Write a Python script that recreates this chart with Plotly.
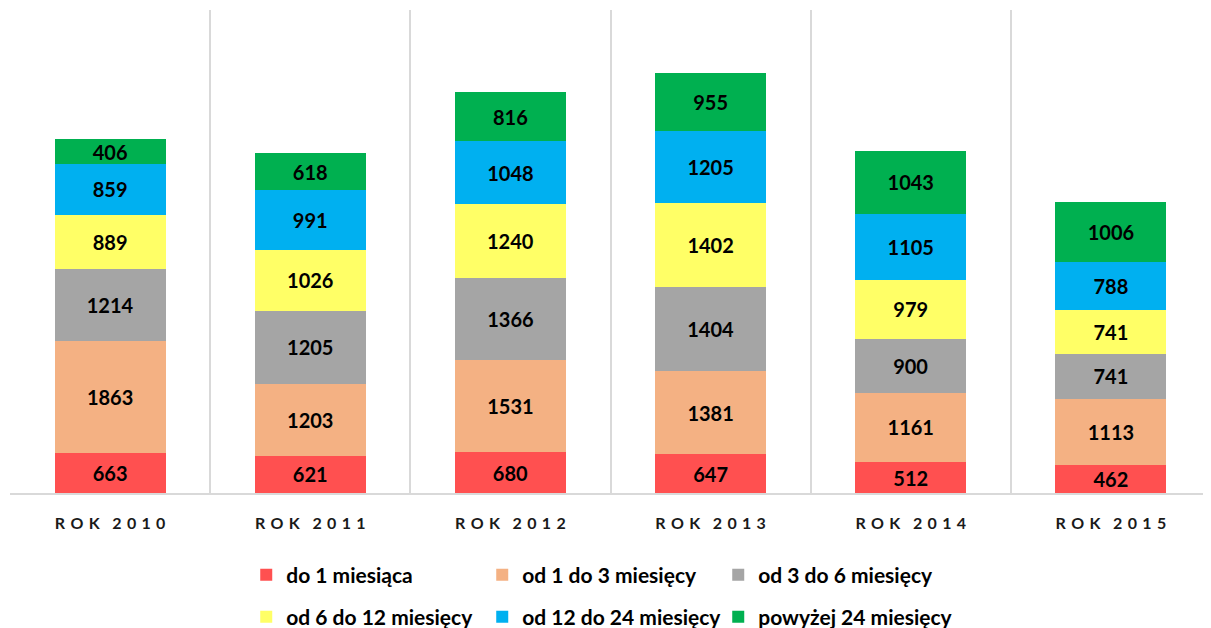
import plotly.graph_objects as go

S = "\u2004"
GAP = "\u2004\u2004\u2009"
years = ["2010", "2011", "2012", "2013", "2014", "2015"]
categories = [S.join("ROK") + GAP + S.join(y) for y in years]
series_names = ["do 1 miesiąca", "od 1 do 3 miesięcy", "od 3 do 6 miesięcy",
                "od 6 do 12 miesięcy", "od 12 do 24 miesięcy", "powyżej 24 miesięcy"]
do_1 = [663, 621, 680, 647, 512, 462]
od_1_3 = [1863, 1203, 1531, 1381, 1161, 1113]
od_3_6 = [1214, 1205, 1366, 1404, 900, 741]
od_6_12 = [889, 1026, 1240, 1402, 979, 741]
od_12_24 = [859, 991, 1048, 1205, 1105, 788]
pow_24 = [406, 618, 816, 955, 1043, 1006]
colors = ["#FF5050", "#F4B183", "#A5A5A5", "#FFFF66", "#00B0F0", "#00B050"]

values = [do_1, od_1_3, od_3_6, od_6_12, od_12_24, pow_24]

fig = go.Figure()
for i, (name, vals, col) in enumerate(zip(series_names, values, colors)):
    fig.add_trace(go.Bar(
        x=categories, y=vals, name=name,
        marker=dict(color=col, line=dict(width=0)),
        text=[str(v) for v in vals],
        textposition="inside", insidetextanchor="middle", textangle=0,
        textfont=dict(family="Lato", size=20, color="black", weight="bold"),
        legend="legend" if i < 3 else "legend2",
    ))

legend_common = dict(
    orientation="h", xanchor="left", yanchor="middle",
    font=dict(family="Lato", size=21, color="black", weight="bold"),
    entrywidth=191, entrywidthmode="pixels", itemwidth=30,
    bgcolor="rgba(0,0,0,0)", traceorder="normal",
)

fig.update_layout(
    width=1211, height=628,
    barmode="stack", bargap=0.445,
    plot_bgcolor="white", paper_bgcolor="white",
    margin=dict(l=2, r=8, t=2, b=143, autoexpand=False),
    uniformtext=dict(minsize=20, mode="show"),
    legend=dict(x=0.1967, y=-0.1698, **legend_common),
    legend2=dict(x=0.1967, y=-0.2567, **legend_common),
    xaxis=dict(
        type="category", tickson="boundaries", showgrid=True,
        gridcolor="#D9D9D9", gridwidth=1.5, showline=True, linecolor="#D9D9D9",
        linewidth=1.5, ticks="", ticklabelstandoff=15,
        tickfont=dict(family="Lato", size=16, color="#1a1a1a", weight="bold"),
    ),
    yaxis=dict(range=[0, 8050], visible=False, showgrid=False),
)

fig.write_html("out.html")
